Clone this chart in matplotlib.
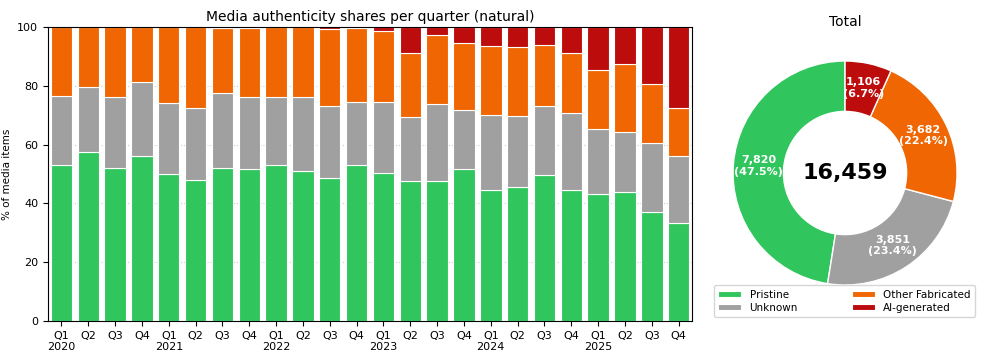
import numpy as np
import matplotlib
matplotlib.use('Agg')
import matplotlib.pyplot as plt

# quarter shares (% of media items)
years = ['2020', '2021', '2022', '2023', '2024', '2025']
quarters = ['Q1', 'Q2', 'Q3', 'Q4']

pristine = [53.0, 57.6, 52.2, 56.1, 49.9, 47.9, 52.0, 51.6, 53.1, 51.1, 48.6, 53.0,
            50.5, 47.7, 47.7, 51.6, 44.7, 45.6, 49.6, 44.6, 43.3, 43.9, 37.1, 33.3]
unknown = [23.4, 22.1, 24.0, 25.1, 24.2, 24.6, 25.7, 24.7, 23.2, 25.0, 24.6, 21.4,
           24.0, 21.7, 26.1, 20.2, 25.3, 24.2, 23.4, 26.2, 21.9, 20.3, 23.3, 22.9]
other_fab = [23.6, 20.3, 23.8, 18.8, 25.9, 27.5, 22.1, 23.5, 23.7, 23.9, 26.2, 25.4,
             24.1, 21.8, 23.5, 22.8, 23.5, 23.4, 20.9, 20.4, 20.2, 23.2, 20.3, 16.3]
ai_gen = [0.0, 0.0, 0.0, 0.0, 0.0, 0.0, 0.2, 0.2, 0.0, 0.0, 0.6, 0.2,
          1.4, 8.8, 2.7, 5.4, 6.5, 6.8, 6.1, 8.8, 14.6, 12.6, 19.3, 27.5]

totals = [7820, 3851, 3682, 1106]
names = ['Pristine', 'Unknown', 'Other Fabricated', 'AI-generated']
colors = ['#31c65d', '#a0a0a0', '#ef6603', '#bd0c0c']

labels = []
for y in years:
    for q in quarters:
        labels.append(q + '\n' + y if q == 'Q1' else q)

fig = plt.figure(figsize=(9.96, 3.61), dpi=100)
ax = fig.add_axes([0.0482, 0.1108, 0.6466, 0.8144])

x = np.arange(len(labels))
bottom = np.zeros(len(labels))
for vals, name, c in zip([pristine, unknown, other_fab, ai_gen], names, colors):
    ax.bar(x, vals, 0.8, bottom=bottom, color=c, edgecolor='white', linewidth=0.8, label=name, zorder=2)
    bottom += np.array(vals)

ax.set_xlim(-0.5, len(labels) - 0.5)
ax.set_ylim(0, 100)
ax.set_xticks(x)
ax.set_xticklabels(labels, fontsize=8)
ax.tick_params(axis='y', labelsize=8)
ax.set_ylabel('% of media items', fontsize=7.5)
ax.set_title('Media authenticity shares per quarter (natural)', fontsize=10, pad=4)
ax.yaxis.grid(True, linestyle=':', color='#cccccc', linewidth=0.8, zorder=0)
ax.set_axisbelow(True)

# donut of totals
ax2 = fig.add_axes([0.736, 0.2105, 0.2249, 0.6205])
tot = sum(totals)
wedges, _ = ax2.pie(totals, colors=colors, startangle=90, counterclock=True,
                    wedgeprops=dict(width=0.45, edgecolor='white', linewidth=1))
for w, v in zip(wedges, totals):
    ang = np.deg2rad((w.theta1 + w.theta2) / 2)
    r = 0.775
    ax2.text(r * np.cos(ang), r * np.sin(ang), f'{v:,}\n({v / tot * 100:.1f}%)',
             ha='center', va='center', color='white', fontsize=8, fontweight='bold')
ax2.text(0, 0, f'{tot:,}', ha='center', va='center', fontsize=16, fontweight='bold')
ax2.set_xlim(-1, 1)
ax2.set_ylim(-1, 1)
ax2.set_aspect('equal')
ax2.set_title('Total', fontsize=10, pad=25)

handles, _ = ax.get_legend_handles_labels()
fig.legend(handles, names, loc='center', bbox_to_anchor=(0.848, 0.166), ncol=2,
           fontsize=7.5, frameon=True, columnspacing=5.2, handlelength=2.2, handleheight=0.5,
           borderpad=0.4, labelspacing=0.3)

fig.savefig('out.png', dpi=100)
